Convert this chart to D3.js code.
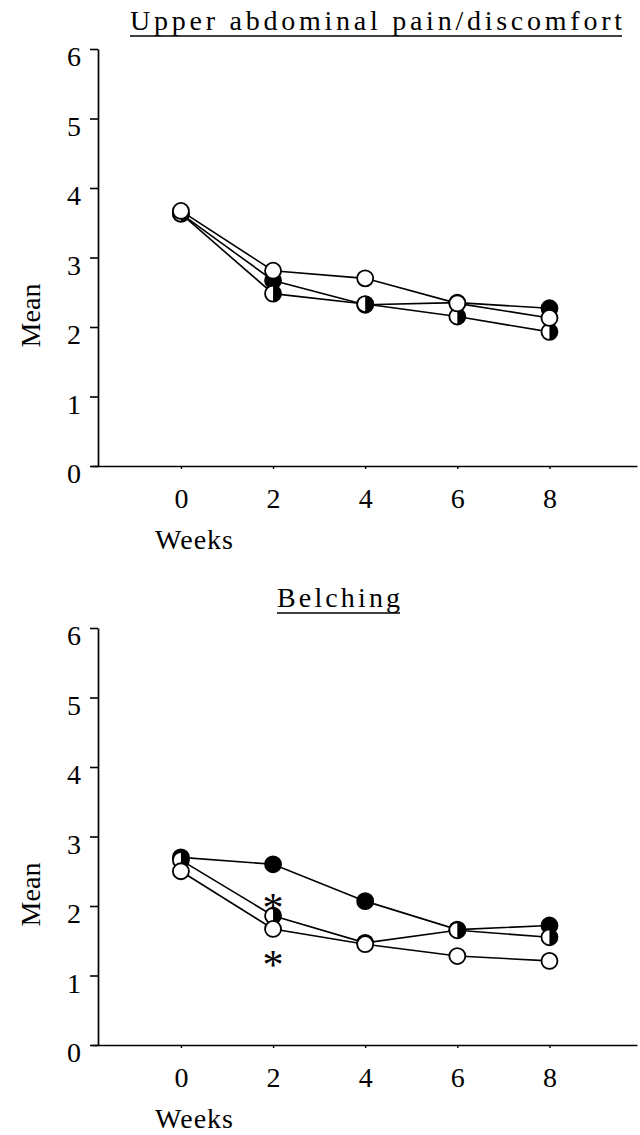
<!DOCTYPE html>
<html>
<head>
<meta charset="utf-8">
<script src="https://cdn.jsdelivr.net/npm/d3@7"></script>
<style>
  html, body { margin: 0; padding: 0; background: #fff; }
  svg { display: block; }
  svg text { font-family: 'Liberation Serif', 'Times New Roman', 'DejaVu Serif', serif !important; fill: #000; }
</style>
</head>
<body>
<svg width="640" height="1135"></svg>
<script>
const weeks = [0, 2, 4, 6, 8]
const yTicks = [0, 1, 2, 3, 4, 5, 6]

const upperFilled = [3.63, 2.67, 2.32, 2.35, 2.27]
const upperHalf = [3.63, 2.48, 2.33, 2.15, 1.93]
const upperOpen = [3.67, 2.81, 2.70, 2.34, 2.13]

const belchFilled = [2.70, 2.60, 2.07, 1.66, 1.72]
const belchHalf = [2.66, 1.86, 1.47, 1.65, 1.55]
const belchOpen = [2.50, 1.67, 1.45, 1.28, 1.21]

// significance marks: [week, mean position]
const belchStars = [[2, 2.07], [2, 1.25]]

const svg = d3.select('svg')
const fontSize = 28
const r = 8

const panels = [
  {
    title: 'Upper abdominal pain/discomfort',
    titleX: 130, titleW: 492, titleY: 30,
    top: 49, bottom: 466,
    series: [upperFilled, upperHalf, upperOpen],
    stars: []
  },
  {
    title: 'Belching',
    titleX: 277, titleW: 123, titleY: 607,
    top: 628, bottom: 1045,
    series: [belchFilled, belchHalf, belchOpen],
    stars: belchStars
  }
]

const kinds = ['filled', 'half', 'open']

panels.forEach(p => {
  const x = d3.scaleLinear().domain([-1.93, 9.9]).range([92, 637])
  const y = d3.scaleLinear().domain([0, 6]).range([p.bottom, p.top])
  const g = svg.append('g')
  const axisX = 98

  // y axis
  const ya = g.append('g')
    .attr('transform', `translate(${axisX},0)`)
    .call(d3.axisLeft(y).tickValues(yTicks).tickFormat(d3.format('d')).tickSize(8).tickSizeOuter(0).tickPadding(9))
  ya.attr('font-family', null).attr('font-size', null)
  ya.select('.domain').attr('stroke', '#000').attr('stroke-width', 1.7)
  ya.selectAll('.tick line').attr('stroke', '#000').attr('stroke-width', 1.6)
  ya.selectAll('.tick text')
    .attr('dy', '0.6em')
    .style('font-size', fontSize + 'px')
    .attr('fill', '#000')

  // x axis
  const xa = g.append('g')
    .attr('transform', `translate(0,${p.bottom})`)
    .call(d3.axisBottom(x).tickValues(weeks).tickFormat(d3.format('d')).tickSize(3).tickSizeOuter(0).tickPadding(19))
  xa.attr('font-family', null).attr('font-size', null)
  xa.select('.domain').attr('stroke', '#000').attr('stroke-width', 1.7)
  xa.selectAll('.tick line').attr('stroke', '#000').attr('stroke-width', 1.4)
  xa.selectAll('.tick text')
    .style('font-size', fontSize + 'px')
    .attr('fill', '#000')

  // title with underline
  g.append('text')
    .attr('x', p.titleX)
    .attr('y', p.titleY)
    .attr('textLength', p.titleW)
    .attr('lengthAdjust', 'spacing')
    .style('font-size', fontSize + 'px')
    .text(p.title)
  g.append('line')
    .attr('x1', p.titleX).attr('x2', p.titleX + p.titleW)
    .attr('y1', p.titleY + 6).attr('y2', p.titleY + 6)
    .attr('stroke', '#000').attr('stroke-width', 1.6)

  // axis titles
  g.append('text')
    .attr('transform', `translate(40,${(p.top + p.bottom) / 2 + 58}) rotate(-90)`)
    .attr('text-anchor', 'middle')
    .style('font-size', fontSize + 'px')
    .text('Mean')
  g.append('text')
    .attr('x', 155)
    .attr('y', p.bottom + 83)
    .attr('textLength', 78)
    .style('font-size', fontSize + 'px')
    .text('Weeks')

  const line = d3.line().x((d, i) => x(weeks[i])).y(d => y(d))

  // lines first, then markers in order filled, half, open
  p.series.forEach(s => {
    g.append('path')
      .datum(s)
      .attr('d', line)
      .attr('fill', 'none')
      .attr('stroke', '#000')
      .attr('stroke-width', 1.6)
  })

  p.series.forEach((s, k) => {
    const kind = kinds[k]
    const m = g.append('g').selectAll('g')
      .data(s)
      .enter().append('g')
      .attr('transform', (d, i) => `translate(${x(weeks[i])},${y(d)})`)
    m.append('circle')
      .attr('r', r)
      .attr('fill', kind === 'filled' ? '#000' : '#fff')
      .attr('stroke', '#000')
      .attr('stroke-width', 1.8)
    if (kind === 'half') {
      m.append('path')
        .attr('d', `M0,${-r}A${r},${r} 0 0 1 0,${r}Z`)
        .attr('fill', '#000')
    }
  })

  g.selectAll('.star')
    .data(p.stars)
    .enter().append('text')
    .attr('class', 'star')
    .attr('x', d => x(d[0]))
    .attr('y', d => y(d[1]))
    .attr('dy', '0.5em')
    .attr('text-anchor', 'middle')
    .style('font-size', '42px')
    .text('*')
})
</script>
</body>
</html>
